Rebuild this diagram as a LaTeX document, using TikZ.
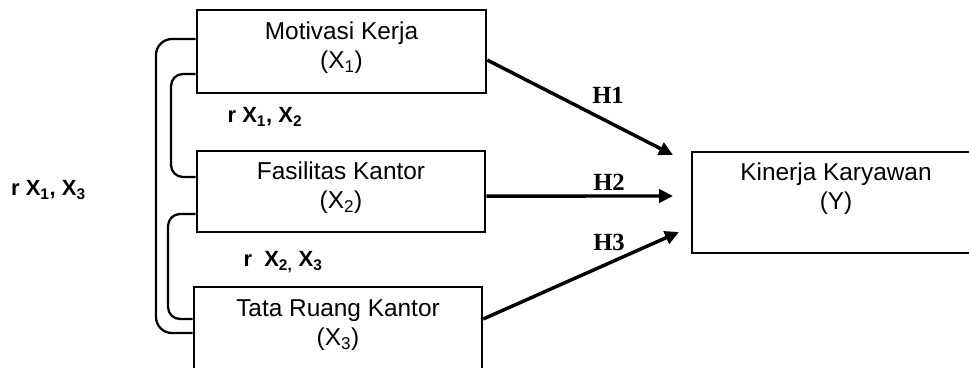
\documentclass[tikz,border=0pt]{standalone}
\usepackage{fontspec}
\setmainfont{Liberation Sans}
\newfontfamily\timesfont{Liberation Serif}
\usetikzlibrary{arrows.meta}
\begin{document}
\begin{tikzpicture}[x=0.75pt,y=-0.75pt,
  boxnode/.style={draw, line width=1.9pt, inner sep=0pt, rectangle},
  boxtext/.style={align=center, font=\fontsize{18.3}{21.75}\selectfont, inner sep=0pt},
  corr/.style={line width=1.7pt},
  hyp/.style={line width=2.6pt, -{Triangle[length=10.5pt,width=10pt]}},
  hlabel/.style={font=\fontsize{18.5}{20}\selectfont\timesfont\bfseries, inner sep=0pt},
  rlabel/.style={font=\fontsize{16.5}{19}\selectfont\bfseries, inner sep=0pt}]
\useasboundingbox (0,0) rectangle (969,367);
\clip (0,0) rectangle (969,367);
% boxes
\node[boxnode, minimum width=216.75pt, minimum height=62.25pt] (b1) at (341.5,51.5) {};
\node[boxnode, minimum width=216pt, minimum height=60.75pt] (b2) at (341,191.5) {};
\node[boxnode, minimum width=216pt, minimum height=66pt] (b3) at (338,331) {};
\node[boxnode, minimum width=270pt, minimum height=75.75pt] (by) at (872,202.5) {};
% box texts
\node[boxtext] (t1) at (341.5,48) {Motivasi Kerja\\(X\textsubscript{1})};
\node[boxtext] (t2) at (341,188) {Fasilitas Kantor\\(X\textsubscript{2})};
\node[boxtext] (t3) at (338,325) {Tata Ruang Kantor\\(X\textsubscript{3})};
\node[boxtext] (ty) at (836,189) {Kinerja Karyawan\\(Y)};
% correlation brackets
\draw[corr, rounded corners=12pt] (b1.west |- 0,39) -- (156,39) -- (156,333) -- (b3.west |- 0,333);
\draw[corr, rounded corners=9pt] (b1.west |- 0,74) -- (171,74) -- (171,177) -- (b2.west |- 0,177);
\draw[corr, rounded corners=9pt] (b2.west |- 0,214) -- (168,214) -- (168,319) -- (b3.west |- 0,319);
% correlation labels
\node[rlabel] (r12) at (265,117) {r X\textsubscript{1}, X\textsubscript{2}};
\node[rlabel] (r23) at (283,262) {r\ \ X\textsubscript{2,} X\textsubscript{3}};
\node[rlabel] (r13) at (48.5,190) {r X\textsubscript{1}, X\textsubscript{3}};
% hypothesis arrows
\coordinate (e1) at (673,155);
\coordinate (e2) at (673,196);
\coordinate (e3) at (679,232);
\draw[hyp] ([yshift=-6.4pt]b1.east) -- (e1);
\draw[hyp] ([yshift=-3.4pt]b2.east) -- (e2);
\draw[hyp] ([yshift=9pt]b3.east) -- (e3);
\node[hlabel] (h1) at (608,95) {H1};
\node[hlabel] (h2) at (609,182) {H2};
\node[hlabel] (h3) at (609,242) {H3};
\end{tikzpicture}
\end{document}
